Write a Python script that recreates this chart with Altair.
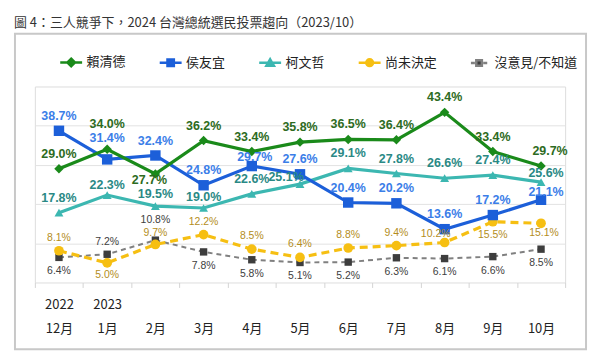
import altair as alt
import pandas as pd

# ---------------- data ----------------
months = ["12月", "1月", "2月", "3月", "4月", "5月", "6月", "7月", "8月", "9月", "10月"]
years = ["2022", "2023", "", "", "", "", "", "", "", "", ""]
series = ["賴清德", "侯友宜", "柯文哲", "尚未決定", "沒意見/不知道"]

lai = [29.0, 34.0, 27.7, 36.2, 33.4, 35.8, 36.5, 36.4, 43.4, 33.4, 29.7]
hou = [38.7, 31.4, 32.4, 24.8, 29.7, 27.6, 20.4, 20.2, 13.6, 17.2, 21.1]
ko = [17.8, 22.3, 19.5, 19.0, 22.6, 25.1, 29.1, 27.8, 26.6, 27.4, 25.6]
undecided = [8.1, 5.0, 9.7, 12.2, 8.5, 6.4, 8.8, 9.4, 10.2, 15.5, 15.1]
no_opinion = [6.4, 7.2, 10.8, 7.8, 5.8, 5.1, 5.2, 6.3, 6.1, 6.6, 8.5]

values = [lai, hou, ko, undecided, no_opinion]

rows = []
for s, vals in zip(series, values):
    for m, v in zip(months, vals):
        rows.append({"series": s, "month": m, "value": v, "label": f"{v:.1f}%"})
df = pd.DataFrame(rows)

# ---------------- styles ----------------
style = {
    "賴清德": dict(line="#1a8a1a", marker="#1a8a1a", text="#2d6b22", shape="diamond", size=90,
                 sw=3.2, dash=None, fs=12.5, fw="bold", above=-15),
    "侯友宜": dict(line="#1c5fd9", marker="#1c5fd9", text="#3b7ee8", shape="square", size=110,
                 sw=3.2, dash=None, fs=12.5, fw="bold", above=-15),
    "柯文哲": dict(line="#3cb7b1", marker="#3cb7b1", text="#2a8985", shape="triangle-up", size=80,
                 sw=3.2, dash=None, fs=12.5, fw="bold", above=-15),
    "尚未決定": dict(line="#f6bf12", marker="#f6bf12", text="#b38d1c", shape="circle", size=95,
                  sw=3.2, dash=[8, 5], fs=10.5, fw="normal", above=-13),
    "沒意見/不知道": dict(line="#808080", marker="#3d3d3d", text="#404040", shape="square", size=55,
                     sw=2, dash=[5, 4], fs=10.5, fw="normal", above=-13),
}
below = 14
# label placement overrides (dx, dy)
place = {
    ("賴清德", "1月"): (0, -25),
    ("賴清德", "2月"): (-6, 6),
    ("賴清德", "10月"): (9, -15),
    ("侯友宜", "1月"): (0, -21),
    ("侯友宜", "4月"): (3, -9),
    ("侯友宜", "10月"): (5, -8),
    ("柯文哲", "1月"): (0, -10),
    ("柯文哲", "2月"): (0, -12),
    ("柯文哲", "3月"): (0, -11),
    ("柯文哲", "5月"): (-14, -7),
    ("柯文哲", "10月"): (5, -9),
    ("尚未決定", "1月"): (0, 12),
    ("尚未決定", "2月"): (0, -12),
    ("尚未決定", "8月"): (-9, -9),
    ("尚未決定", "9月"): (0, 13),
    ("尚未決定", "10月"): (3, 10),
    ("沒意見/不知道", "1月"): (0, -12),
    ("沒意見/不知道", "2月"): (0, -20),
}

font = "Noto Sans CJK TC"
num_font = "Liberation Sans"

label_expr = " : ".join(
    f"datum.value == '{m}' ? ['{y}', '{m}']" for m, y in zip(months, years) if y
) + " : ['', datum.value]"

X = alt.X(
    "month:N",
    sort=months,
    scale=alt.Scale(type="band", domain=months, paddingInner=0, paddingOuter=0),
    axis=alt.Axis(
        title=None, labelExpr=label_expr, labelAngle=0, labelBaseline="top",
        labelLineHeight=24, labelPadding=11, labelFont=font, labelFontSize=13,
        labelColor="#222222", tickBand="extent", tickSize=5, tickColor="#d4d4d4",
        domain=False, grid=False,
    ),
)
Y = alt.Y(
    "value:Q",
    scale=alt.Scale(domain=[0, 50]),
    axis=alt.Axis(title=None, labels=False, ticks=False, domain=False,
                  grid=True, gridColor="#e2e2e2", values=[10, 20, 30, 40]),
)

layers = []

# outer frame
frame = alt.Chart(pd.DataFrame({"a": [0]})).mark_rect(
    filled=False, stroke="#c8c8c8", strokeWidth=2
).encode(x=alt.value(-20), x2=alt.value(554), y=alt.value(-53), y2=alt.value(264))
layers.append(frame)

draw_order = ["沒意見/不知道", "尚未決定", "柯文哲", "侯友宜", "賴清德"]
for s in draw_order:
    st = style[s]
    sub = df[df.series == s]
    line_kw = dict(color=st["line"], strokeWidth=st["sw"])
    if st["dash"]:
        line_kw["strokeDash"] = st["dash"]
    layers.append(alt.Chart(sub).mark_line(**line_kw).encode(x=X, y=Y))
    layers.append(
        alt.Chart(sub).mark_point(filled=True, shape=st["shape"], size=st["size"],
                                  color=st["marker"], opacity=1).encode(x=X, y=Y)
    )

for s in draw_order:
    st = style[s]
    sub = df[df.series == s].copy()
    default_dy = below if s == "沒意見/不知道" else st["above"]
    offs = [place.get((s, m), (0, default_dy)) for m in sub.month]
    sub["dx"] = [o[0] for o in offs]
    sub["dy"] = [o[1] for o in offs]
    for (dx, dy), g in sub.groupby(["dx", "dy"]):
        layers.append(
            alt.Chart(g[["month", "value", "label"]]).mark_text(
                dx=int(dx), dy=int(dy), font=num_font, fontSize=st["fs"],
                fontWeight=st["fw"], color=st["text"], baseline="middle",
            ).encode(x=X, y=Y, text="label:N")
        )


# legend layer: line + marker symbols as custom paths
def sym(kind):
    c = 1.75
    line = "M-1,0H4.5"
    if kind == "diamond":
        return line + f"M{c},-0.95L{c+0.95},0L{c},0.95L{c-0.95},0Z"
    if kind == "square":
        return line + f"M{c-0.8},-0.8H{c+0.8}V0.8H{c-0.8}Z"
    if kind == "triangle":
        return line + f"M{c},-0.9L{c+0.95},0.75H{c-0.95}Z"
    if kind == "circle":
        r = 0.85
        return line + f"M{c+r},0A{r},{r},0,1,1,{c-r},0A{r},{r},0,1,1,{c+r},0Z"
    # dashed with small square
    return f"M-0.3,0H0.7M2.8,0H3.8M{c-0.7},-0.7H{c+0.7}V0.7H{c-0.7}Z"


paths = [sym("diamond"), sym("square"), sym("triangle"), sym("circle"), sym("dash")]
leg = alt.Legend(
    title=None, orient="none", legendX=23, legendY=-31, direction="horizontal",
    columns=5, columnPadding=28, symbolSize=64, symbolStrokeWidth=2.5,
    labelOffset=16, labelFont=font, labelFontSize=13, labelColor="#222222",
    padding=0, symbolOpacity=1,
)
legend_layer = alt.Chart(df).transform_filter("false").mark_point(
    filled=True, strokeWidth=2.5, size=64
).encode(
    x=X, y=Y,
    fill=alt.Fill("series:N", scale=alt.Scale(domain=series,
                  range=[style[s]["marker"] for s in series]), legend=leg),
    stroke=alt.Stroke("series:N", scale=alt.Scale(domain=series,
                      range=[style[s]["line"] for s in series]), legend=leg),
    shape=alt.Shape("series:N", scale=alt.Scale(domain=series, range=paths), legend=leg),
)
layers.append(legend_layer)

chart = alt.layer(*layers).properties(
    width=533,
    height=197,
    padding={"left": 6, "top": 8, "right": 5, "bottom": 5},
    title=alt.Title(
        "圖 4：三人競爭下，2024 台灣總統選民投票趨向（2023/10）",
        anchor="start", frame="bounds", font=font, fontSize=13,
        fontWeight="normal", color="#333333", offset=3,
    ),
).configure_view(stroke="#d9d9d9", strokeWidth=1).configure(background="white")

chart.save("out.html", embed_options={"renderer": "svg", "actions": False})
